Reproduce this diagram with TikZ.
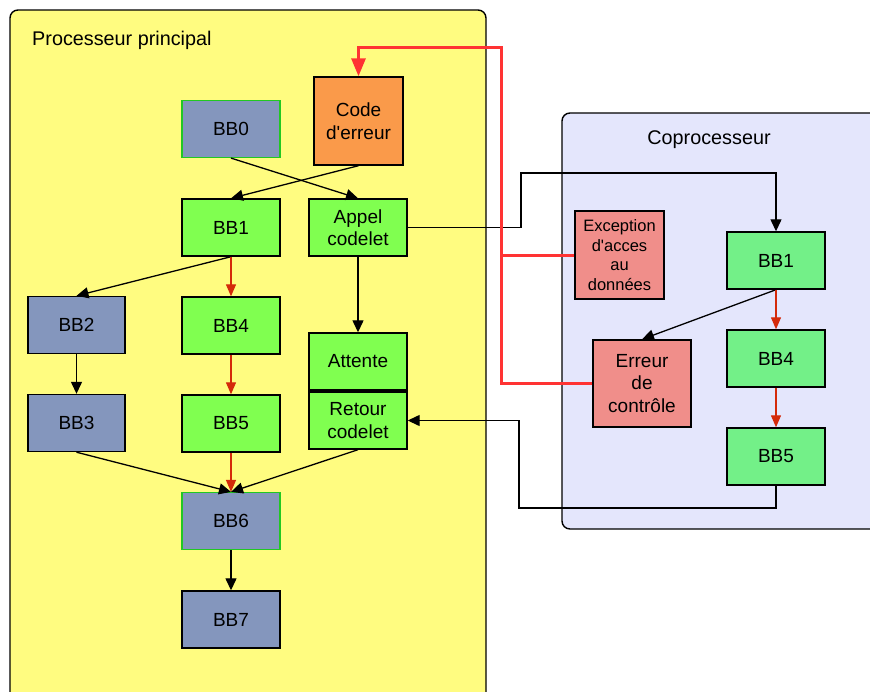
\documentclass[tikz,border=0pt]{standalone}
\usepackage{fontspec}
\setmainfont{Liberation Sans}
\usetikzlibrary{arrows.meta}
\definecolor{procfill}{RGB}{255,252,128}
\definecolor{copfill}{RGB}{228,230,252}
\definecolor{bbgray}{RGB}{132,150,189}
\definecolor{bbgreen}{RGB}{128,255,80}
\definecolor{copgreen}{RGB}{115,240,136}
\definecolor{errsalmon}{RGB}{240,142,138}
\definecolor{errorange}{RGB}{250,154,74}
\definecolor{edgegreen}{RGB}{34,200,34}
\definecolor{flowred}{RGB}{212,42,10}
\definecolor{faultred}{RGB}{255,51,51}
\tikzset{
  blk/.style={draw=black, line width=1.4pt, inner sep=0pt, align=center,
    minimum width=98pt, minimum height=57pt,
    font=\fontsize{19}{22.5}\selectfont},
  grayblk/.style={blk, fill=bbgray},
  grayblkg/.style={blk, fill=bbgray, draw=edgegreen, line width=1.2pt},
  greenblk/.style={blk, fill=bbgreen},
  copblk/.style={blk, fill=copgreen},
  flow/.style={line width=1.3pt, -{Triangle[length=12pt,width=11pt]}},
  redflow/.style={line width=1.3pt, draw=flowred, -{Triangle[length=12pt,width=10pt]}, flowred},
  fault/.style={line width=3pt, draw=faultred},
  frame/.style={draw=black, line width=1.4pt, rounded corners=8pt},
  title/.style={font=\fontsize{19.8}{23}\selectfont, inner sep=0pt}
}
\begin{document}
\begin{tikzpicture}[x=1pt, y=-1pt]
\useasboundingbox (0,0) rectangle (870,691);

% processor frames
\draw[frame, fill=procfill] (10,10) rectangle (486,730);
\draw[frame, fill=copfill] (562,113) rectangle (900,529);
\node[title, anchor=base west] (tproc) at (32,45) {Processeur principal};
\node[title, anchor=base] (tcop) at (709,144) {Coprocesseur};

% main processor blocks
\node[grayblkg] (bb0) at (231,129) {BB0};
\node[blk, fill=errorange, minimum width=89pt, minimum height=88pt] (code) at (358.5,121) {Code\\d\textquotesingle erreur};
\node[greenblk] (bb1) at (231,227.5) {BB1};
\node[greenblk] (appel) at (358,227.5) {Appel\\codelet};
\node[grayblk, minimum width=97pt] (bb2) at (76.5,325) {BB2};
\node[greenblk] (bb4) at (231,325.5) {BB4};
\node[greenblk] (attente) at (358,361.5) {Attente};
\node[greenblk] (retour) at (358,420.5) {Retour\\codelet};
\node[grayblk, minimum width=97pt] (bb3) at (76.5,423) {BB3};
\node[greenblk] (bb5) at (231,423.5) {BB5};
\node[grayblkg] (bb6) at (231,521) {BB6};
\node[grayblk] (bb7) at (231,619.5) {BB7};

% coprocessor blocks
\node[blk, fill=errsalmon, minimum width=89pt, minimum height=88pt,
  font=\fontsize{16.5}{19.5}\selectfont] (exc) at (619.5,255) {Exception\\d\textquotesingle acces\\au\\données};
\node[copblk] (cbb1) at (776,260.5) {BB1};
\node[blk, fill=errsalmon, minimum height=87pt] (err) at (642,383.5) {Erreur\\de\\contrôle};
\node[copblk] (cbb4) at (776,358.5) {BB4};
\node[copblk] (cbb5) at (776,456.5) {BB5};

% control flow, main processor
\draw[flow] (bb0.south) -- (appel.north);
\draw[flow] (code.south) -- (bb1.north);
\draw[flow] (bb1.south) -- (bb2.north);
\draw[redflow] (bb1.south) -- (bb4.north);
\draw[redflow] (bb4.south) -- (bb5.north);
\draw[redflow] (bb5.south) -- (bb6.north);
\draw[flow] (bb2.south) -- (bb3.north);
\draw[flow] (bb3.south) -- (bb6.north);
\draw[flow] (retour.south) -- (bb6.north);
\draw[flow] (appel.south) -- (attente.north);
\draw[flow] (bb6.south) -- (bb7.north);

% control flow, coprocessor
\draw[flow] (cbb1.south) -- (err.north);
\draw[redflow] (cbb1.south) -- (cbb4.north);
\draw[redflow] (cbb4.south) -- (cbb5.north);

% codelet call and return
\coordinate (c1) at (521,227.5);
\coordinate (c2) at (521,173);
\draw[flow] (appel.east) -- (c1) -- (c2) -| (cbb1.north);
\coordinate (r1) at (776,508);
\coordinate (r2) at (519,508);
\coordinate (r3) at (519,420.5);
\draw[flow] (cbb5.south) -- (r1) -- (r2) -- (r3) -- (retour.east);

% fault paths to the error handler
\coordinate (f1) at (501,383.5);
\coordinate (f2) at (501,255);
\coordinate (f3) at (501,47);
\draw[fault] (exc.west) -- (f2);
\draw[fault, -{Triangle[length=18pt,width=14pt]}, line join=miter] (err.west) -- (f1) -- (f3) -| (code.north);
\end{tikzpicture}
\end{document}
